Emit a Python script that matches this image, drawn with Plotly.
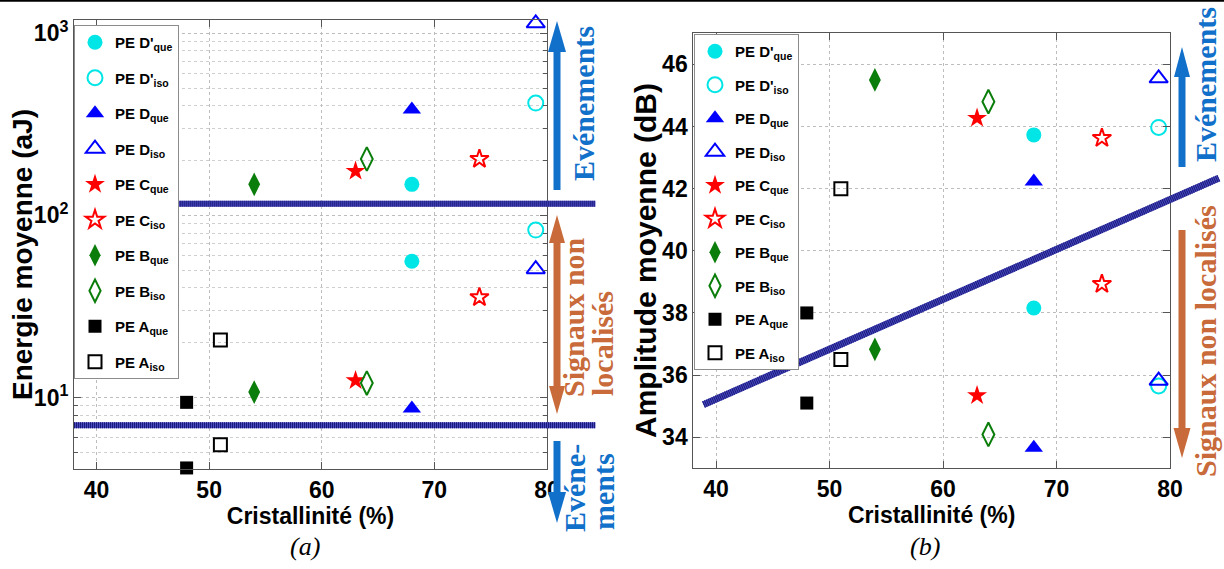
import plotly.graph_objects as go

W, H = 1224, 569

# ---------------- data ----------------
series_labels = ["PE D'", "PE D'", "PE D", "PE D", "PE C", "PE C", "PE B", "PE B", "PE A", "PE A"]
series_subs = ["que", "iso", "que", "iso", "que", "iso", "que", "iso", "que", "iso"]

# crystallinity (%) of each series (two events per series)
x_Dp_que = [68, 68]
x_Dp_iso = [79, 79]
x_D_que = [68, 68]
x_D_iso = [79, 79]
x_C_que = [63, 63]
x_C_iso = [74, 74]
x_B_que = [54, 54]
x_B_iso = [64, 64]
x_A_que = [48, 48]
x_A_iso = [51, 51]

# mean energy (aJ)
energy_Dp_que = [148, 56]
energy_Dp_iso = [414, 83]
energy_D_que = [381, 8.7]
energy_D_iso = [1134, 50.6]
energy_C_que = [175, 12.4]
energy_C_iso = [204, 35.5]
energy_B_que = [148, 10.7]
energy_B_iso = [204, 12.0]
energy_A_que = [9.4, 4.1]
energy_A_iso = [20.7, 5.5]

# mean amplitude (dB)
ampl_Dp_que = [43.73, 38.16]
ampl_Dp_iso = [43.97, 35.65]
ampl_D_que = [42.23, 33.66]
ampl_D_iso = [45.55, 35.82]
ampl_C_que = [44.27, 35.34]
ampl_C_iso = [43.63, 38.93]
ampl_B_que = [45.50, 36.83]
ampl_B_iso = [44.80, 34.09]
ampl_A_que = [38.00, 35.10]
ampl_A_iso = [42.00, 36.50]

# threshold lines
energy_thresholds = [116, 7.03]          # aJ
energy_thr_x_start = [46.5, 38.0]         # %
energy_thr_x_end = [84.3, 84.3]
ampl_line_x = [38.9, 84.3]                # %
ampl_line_y = [35.05, 42.34]              # dB

x_ticks = [40, 50, 60, 70, 80]
energy_ticks = [10, 100, 1000]
energy_ticktext = ["10<sup>1</sup>", "10<sup>2</sup>", "10<sup>3</sup>"]
ampl_ticks = [34, 36, 38, 40, 42, 44, 46]

X_RANGE = [38, 80]
E_RANGE_LOG = [0.607, 3.073]
A_RANGE = [33, 47]

xs = [x_Dp_que, x_Dp_iso, x_D_que, x_D_iso, x_C_que, x_C_iso, x_B_que, x_B_iso, x_A_que, x_A_iso]
energies = [energy_Dp_que, energy_Dp_iso, energy_D_que, energy_D_iso, energy_C_que,
            energy_C_iso, energy_B_que, energy_B_iso, energy_A_que, energy_A_iso]
ampls = [ampl_Dp_que, ampl_Dp_iso, ampl_D_que, ampl_D_iso, ampl_C_que,
         ampl_C_iso, ampl_B_que, ampl_B_iso, ampl_A_que, ampl_A_iso]

CYAN, BLUE, RED, GREEN, BLACK = "#00e6e6", "#0000ff", "#ff0000", "#0a7d0a", "#000000"
styles = [
    ("circle", CYAN, 15), ("circle-open", CYAN, 15),
    ("triangle-up", BLUE, 16), ("triangle-up-open", BLUE, 16),
    ("star", RED, 15), ("star-open", RED, 14),
    ("diamond-tall", GREEN, 17), ("diamond-tall-open", GREEN, 17),
    ("square", BLACK, 13), ("square-open", BLACK, 13),
]

SANS = "Liberation Sans"
NARROW = "Liberation Sans Narrow, Liberation Sans, Arial"
SERIF = "Liberation Serif, Times New Roman"
EV_BLUE = "#1170c9"
SIG_ORANGE = "#c86a3a"
NAVY = "#1a1a78"

fig = go.Figure()

for i in range(10):
    sym, col, size = styles[i]
    name = f"{series_labels[i]}<sub>{series_subs[i]}</sub>"
    mk = dict(symbol=sym, color=col, size=size, line=dict(color=col, width=2 if "open" in sym else 0))
    fig.add_trace(go.Scatter(x=xs[i], y=energies[i], mode="markers", name=name, marker=mk,
                             xaxis="x", yaxis="y", legend="legend", legendgroup=f"L{i}",
                             cliponaxis=False))
for i in range(10):
    sym, col, size = styles[i]
    name = f"{series_labels[i]}<sub>{series_subs[i]}</sub>"
    mk = dict(symbol=sym, color=col, size=size, line=dict(color=col, width=2 if "open" in sym else 0))
    fig.add_trace(go.Scatter(x=xs[i], y=ampls[i], mode="markers", name=name, marker=mk,
                             xaxis="x2", yaxis="y2", legend="legend2", legendgroup=f"R{i}",
                             cliponaxis=False))

def px(xp):
    return xp / W

def py(yp):
    return 1 - yp / H

axis_common = dict(
    showline=True, linecolor="#555555", linewidth=1, mirror="ticks",
    ticks="inside", ticklen=7, tickcolor="#555555",
    showgrid=True, gridcolor="#bdbdbd", griddash="dot", gridwidth=1,
    zeroline=False, automargin=False,
    tickfont=dict(family=SANS, size=23, color="black", weight="bold"),
)

minor_vals = [m * 10 ** e for e in range(0, 4) for m in range(2, 10)]

fig.update_layout(
    template="none",
    width=W, height=H,
    margin=dict(l=0, r=0, t=0, b=0, autoexpand=False),
    paper_bgcolor="white", plot_bgcolor="white",
    xaxis=dict(domain=[px(74), px(547)], range=X_RANGE, tickvals=x_ticks, anchor="y",
               title=dict(text="Cristallinité (%)", standoff=0,
                          font=dict(family=SANS, size=23, color="black", weight="bold")),
               **axis_common),
    yaxis=dict(domain=[py(469), py(20)], type="log", range=E_RANGE_LOG, anchor="x",
               tickvals=energy_ticks, ticktext=energy_ticktext,
               minor=dict(tickvals=minor_vals, ticks="inside", ticklen=4, tickcolor="#555555",
                          showgrid=True, gridcolor="#cfcfcf", griddash="dot"),
               **axis_common),
    xaxis2=dict(domain=[px(693.3), px(1170)], range=X_RANGE, tickvals=x_ticks, anchor="y2",
                title=dict(text="Cristallinité (%)", standoff=0,
                           font=dict(family=SANS, size=23, color="black", weight="bold")),
                **axis_common),
    yaxis2=dict(domain=[py(468.3), py(33.3)], range=A_RANGE, tickvals=ampl_ticks, anchor="x2",
                **axis_common),
    legend=dict(x=px(74), y=py(25), xanchor="left", yanchor="top", bgcolor="white",
                bordercolor="#8c8c8c", borderwidth=1, traceorder="grouped", tracegroupgap=13,
                font=dict(family=NARROW, size=15, color="black", weight="bold"),
                itemwidth=30),
    legend2=dict(x=px(694), y=py(34), xanchor="left", yanchor="top", bgcolor="white",
                 bordercolor="#8c8c8c", borderwidth=1, traceorder="grouped", tracegroupgap=11,
                 font=dict(family=NARROW, size=15, color="black", weight="bold"),
                 itemwidth=30),
    showlegend=True,
)

shapes = []
# threshold lines (energy, left panel)
for yv, xa, xb in zip(energy_thresholds, energy_thr_x_start, energy_thr_x_end):
    d0 = (xa - X_RANGE[0]) / (X_RANGE[1] - X_RANGE[0])
    d1 = (xb - X_RANGE[0]) / (X_RANGE[1] - X_RANGE[0])
    shapes.append(dict(type="line", xref="x domain", yref="y", x0=d0, x1=d1, y0=yv, y1=yv,
                       line=dict(color="#4848c0", width=6), layer="above"))
    shapes.append(dict(type="line", xref="x domain", yref="y", x0=d0, x1=d1, y0=yv, y1=yv,
                       line=dict(color=NAVY, width=6, dash="1px,1px"), layer="above"))
# oblique line (amplitude, right panel)
d0 = (ampl_line_x[0] - X_RANGE[0]) / (X_RANGE[1] - X_RANGE[0])
d1 = (ampl_line_x[1] - X_RANGE[0]) / (X_RANGE[1] - X_RANGE[0])
shapes.append(dict(type="line", xref="x2 domain", yref="y2", x0=d0, x1=d1,
                   y0=ampl_line_y[0], y1=ampl_line_y[1],
                   line=dict(color="#4848c0", width=7), layer="above"))
shapes.append(dict(type="line", xref="x2 domain", yref="y2", x0=d0, x1=d1,
                   y0=ampl_line_y[0], y1=ampl_line_y[1],
                   line=dict(color=NAVY, width=7, dash="1px,1px"), layer="above"))


def arrow(x, y_tail, y_tip, color, head_len=31, head_w=18, shaft=7, double=False):
    out = []
    direction = 1 if y_tip > y_tail else -1  # +1: pointing down (pixel)
    base = y_tip - direction * head_len
    start = y_tail
    if double:
        start = y_tail + direction * head_len
    out.append(dict(type="line", xref="paper", yref="paper", x0=px(x), x1=px(x),
                    y0=py(start), y1=py(base), line=dict(color=color, width=shaft)))
    heads = [(y_tip, base)]
    if double:
        heads.append((y_tail, y_tail + direction * head_len))
    for tip, b in heads:
        path = (f"M{px(x)},{py(tip)} L{px(x - head_w / 2)},{py(b)} "
                f"L{px(x + head_w / 2)},{py(b)} Z")
        out.append(dict(type="path", xref="paper", yref="paper", path=path,
                        fillcolor=color, line=dict(width=0)))
    return out

shapes += arrow(557, 190, 21, EV_BLUE)
shapes += arrow(557, 215, 414, SIG_ORANGE, head_len=28, head_w=16, double=True)
shapes += arrow(557, 441, 523, EV_BLUE)
shapes += arrow(1182, 167, 47, EV_BLUE, head_len=30, head_w=16)
shapes += arrow(1182, 230, 458, SIG_ORANGE, head_len=30, head_w=17)
# top border line
shapes.append(dict(type="line", xref="paper", yref="paper", x0=0, x1=1, y0=py(0.8), y1=py(0.8),
                   line=dict(color="black", width=2)))

fig.update_layout(shapes=shapes)

ann = []

def vtext(text, x, y, color, size=30, family=SERIF):
    return dict(text=f"<b>{text}</b>", x=px(x), y=py(y), xref="paper", yref="paper",
                showarrow=False, textangle=-90, xanchor="center", yanchor="middle",
                font=dict(family=family, size=size, color=color))

# y-axis titles
ann.append(vtext("Energie moyenne (aJ)", 22, 255, "black", size=28, family=SANS))
ann.append(vtext("Amplitude moyenne (dB)", 645, 261, "black", size=30, family=SANS))

ann.append(vtext("Evénements", 583, 104, EV_BLUE))
ann.append(vtext("Signaux non", 573, 317, SIG_ORANGE))
ann.append(vtext("localisés", 602, 344, SIG_ORANGE))
ann.append(vtext("Evéne-", 574, 488, EV_BLUE))
ann.append(vtext("ments", 603, 492, EV_BLUE))
ann.append(vtext("Evénements", 1205, 85, EV_BLUE))
ann.append(vtext("Signaux non localisés", 1205, 341, SIG_ORANGE))

for t, xc in (("(a)", 305), ("(b)", 925)):
    ann.append(dict(text=f"<i>{t}</i>", x=px(xc), y=py(546), xref="paper", yref="paper",
                    showarrow=False, xanchor="center", yanchor="middle",
                    font=dict(family=SERIF, size=26, color="black")))

fig.update_layout(annotations=ann)

fig.write_html(
    "out.html",
    config={"displayModeBar": False},
    post_script="document.body.style.margin='0';document.body.style.overflow='hidden';",
)
